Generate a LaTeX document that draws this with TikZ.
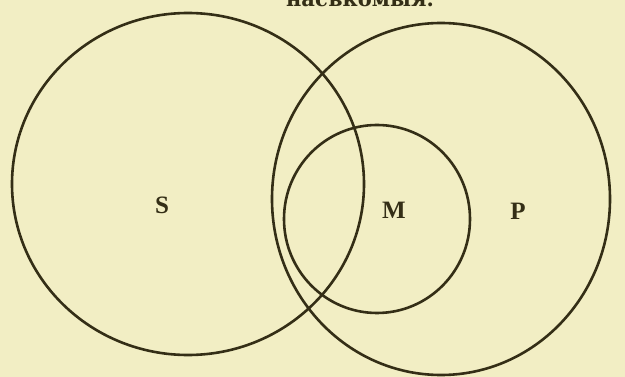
\documentclass[tikz,border=0pt]{standalone}
\usepackage{fontspec}
\usepackage{xcolor}
\usetikzlibrary{shapes.geometric}
\newfontfamily\cyrfont{DejaVu Serif}
\newfontfamily\letterfont{Liberation Serif}
\definecolor{paper}{RGB}{242,238,196}
\definecolor{ink}{RGB}{52,46,22}
\tikzset{
  termring/.style={
    draw=ink,
    ellipse,
    line width=2.6pt,
    inner sep=0pt
  },
  termlabel/.style={
    text=ink,
    inner sep=0pt,
    font=\letterfont\bfseries\fontsize{25}{25}\selectfont
  },
  caption/.style={
    text=ink,
    inner sep=0pt,
    anchor=base,
    font=\cyrfont\bfseries\fontsize{21}{21}\selectfont
  }
}
\begin{document}
\begin{tikzpicture}[x=1pt,y=-1pt]
  \clip (0,0) rectangle (625,377);
  \fill[paper] (0,0) rectangle (625,377);

  % heading, cut off by the page edge
  \node[caption] (head) at (360,7) {насѣкомыя.};

  \node[termring, minimum width=352pt, minimum height=342pt] (ringS) at (188,184) {};
  \node[termring, minimum width=338pt, minimum height=352pt] (ringP) at (441,199) {};
  \node[termring, minimum width=186pt, minimum height=188pt] (ringM) at (377,219) {};

  \node[termlabel] (S) at (162,205) {S};
  \node[termlabel] (M) at (394,210) {M};
  \node[termlabel] (P) at (518,211) {P};
\end{tikzpicture}
\end{document}
